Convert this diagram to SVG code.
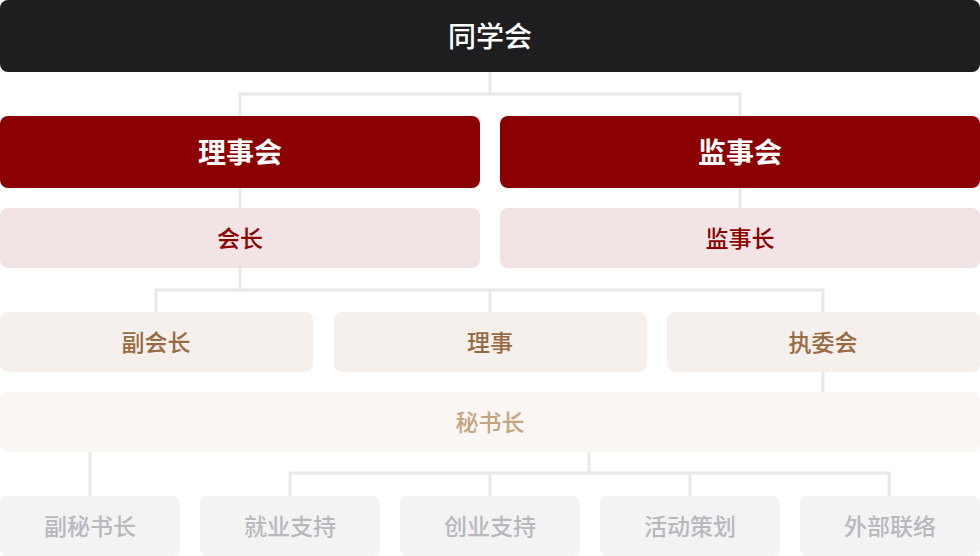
<svg xmlns="http://www.w3.org/2000/svg" width="980" height="556" viewBox="0 0 980 556">
<style>
text{font-family:"Noto Sans CJK SC","Noto Sans",sans-serif;text-anchor:middle;dominant-baseline:central}
.l0 rect{fill:#1e1e20}.l0 text{fill:#ffffff;font-size:28px;font-weight:500}
.l1 rect{fill:#8b0000}.l1 text{fill:#ffffff;font-size:28px;font-weight:700}
.l2 rect{fill:#f2e4e4}.l2 text{fill:#8b0000;font-size:23px;font-weight:500}
.l3 rect{fill:#f5f0ec}.l3 text{fill:#9a6a43;font-size:23px;font-weight:500}
.l4 rect{fill:#faf6f3}.l4 text{fill:#c4a57f;font-size:23px;font-weight:500}
.l5 rect{fill:#f3f3f4}.l5 text{fill:#b8b8bd;font-size:23px;font-weight:500}
#connectors path{fill:none;stroke:#e8e8e8;stroke-width:3}
</style>
<g id="connectors">
<path d="M490 72V94M240 116V94H740V116"/>
<path d="M240 188V208M740 188V208"/>
<path d="M240 268V290M156 312V290H823V312M490 290V312"/>
<path d="M823 372V392"/>
<path d="M90 452V496"/>
<path d="M589 452V473M290 496V473H889V496M490 473V496M690 473V496"/>
</g>
<g id="n-tongxuehui" class="l0"><rect x="0" y="0" width="980" height="72" rx="8"/><text x="490" y="35">同学会</text></g>
<g id="n-lishihui" class="l1"><rect x="0" y="116" width="480" height="72" rx="8"/><text x="240" y="151">理事会</text></g>
<g id="n-jianshihui" class="l1"><rect x="500" y="116" width="480" height="72" rx="8"/><text x="740" y="151">监事会</text></g>
<g id="n-huizhang" class="l2"><rect x="0" y="208" width="480" height="60" rx="8"/><text x="240" y="237">会长</text></g>
<g id="n-jianshizhang" class="l2"><rect x="500" y="208" width="480" height="60" rx="8"/><text x="740" y="237">监事长</text></g>
<g id="n-fuhuizhang" class="l3"><rect x="0" y="312" width="313" height="60" rx="8"/><text x="156" y="341">副会长</text></g>
<g id="n-lishi" class="l3"><rect x="334" y="312" width="313" height="60" rx="8"/><text x="490" y="341">理事</text></g>
<g id="n-zhiweihui" class="l3"><rect x="667" y="312" width="313" height="60" rx="8"/><text x="823" y="341">执委会</text></g>
<g id="n-mishuzhang" class="l4"><rect x="0" y="392" width="980" height="60" rx="8"/><text x="490" y="421">秘书长</text></g>
<g id="n-fumishuzhang" class="l5"><rect x="0" y="496" width="180" height="60" rx="8"/><text x="90" y="525">副秘书长</text></g>
<g id="n-jiuye" class="l5"><rect x="200" y="496" width="180" height="60" rx="8"/><text x="290" y="525">就业支持</text></g>
<g id="n-chuangye" class="l5"><rect x="400" y="496" width="180" height="60" rx="8"/><text x="490" y="525">创业支持</text></g>
<g id="n-huodong" class="l5"><rect x="600" y="496" width="180" height="60" rx="8"/><text x="690" y="525">活动策划</text></g>
<g id="n-waibu" class="l5"><rect x="800" y="496" width="180" height="60" rx="8"/><text x="890" y="525">外部联络</text></g>
</svg>
